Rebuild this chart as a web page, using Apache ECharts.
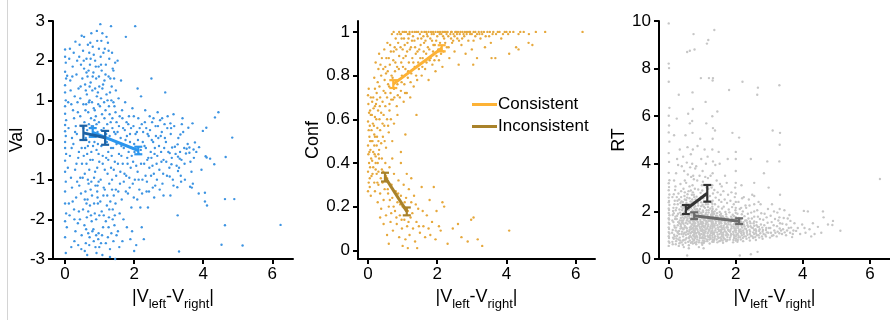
<!DOCTYPE html>
<html><head><meta charset="utf-8">
<script src="https://cdn.jsdelivr.net/npm/echarts@6/dist/echarts.min.js"></script>
<style>html,body{margin:0;padding:0;background:#fff}#c{width:890px;height:320px}</style>
</head><body><div id="c"></div>
<script>
// ---------- DATA ----------
const xTicks=[0,2,4,6];
const confTicks=[0,0.2,0.4,0.6,0.8,1];
const xName='{a||V}{s|left}{a|-V}{s|right}{a||}';

// Panel 1: Val vs |Vleft-Vright|
const valPts=[[0,2.28],[0,2.1],[0.02,1.95],[0,1.72],[0.03,1.55],[0,1.38],[0,1.2],[0.02,1.0],[0,0.85],[0,0.66],[0.03,0.5],[0,0.38],[0,0.22],[0.02,0.1],[0,-0.05],[0,-0.2],[0.03,-0.35],[0,-0.52],[0,-0.8],[0.02,-1.05],[0,-1.3],[0,-1.6],[0.03,-1.85],[0,-2.05],[0,-2.45],[0.02,-2.85],
[0.12,2.05],[0.15,1.5],[0.18,0.9],[0.1,0.3],[0.14,-0.4],[0.2,-1.2],[0.13,-1.9],[0.18,-2.7],[0.22,1.85],[0.25,2.2],[0.28,1.1],[0.3,2.48],[0.26,0.55],[0.24,-0.1],[0.29,-0.75],[0.22,-1.55],[0.3,-2.3],[0.27,-2.55],[0.33,1.65],[0.36,0.95],[0.34,0.15],[0.38,-0.45],[0.35,-1.05],[0.4,-1.8],[0.37,-2.1],[0.42,2.4],[0.45,1.35],[0.44,0.6],[0.48,-0.2],[0.46,-1.35],[0.43,-2.0],[0.48,-2.4],[0.41,2.1],[0.46,1.9],[0.39,1.3],[0.47,0.35],[0.49,-0.6],[0.44,-0.95],[0.38,-2.65],[0.32,-1.45],[0.17,-0.95],[0.2,0.05],[0.16,1.25],[0.23,0.75],[0.11,-1.6],[0.27,-2.0],[0.35,2.0],[0.48,2.63],[0.4,-0.3],[0.31,0.35],
[0.52,2.25],[0.55,1.8],[0.58,1.4],[0.53,0.9],[0.56,0.45],[0.6,0.05],[0.54,-0.4],[0.57,-0.85],[0.59,-1.3],[0.52,-1.75],[0.56,-2.15],[0.6,-2.6],[0.62,2.05],[0.65,1.6],[0.63,1.15],[0.67,0.7],[0.64,0.25],[0.66,-0.15],[0.62,-0.6],[0.68,-1.1],[0.65,-1.5],[0.63,-1.95],[0.67,-2.35],[0.64,-2.9],[0.7,2.2],[0.72,1.9],[0.74,1.45],[0.71,1.0],[0.75,0.55],[0.73,0.1],[0.76,-0.3],[0.7,-0.75],[0.74,-1.25],[0.72,-1.65],[0.77,-2.05],[0.71,-2.45],[0.76,2.69],[0.8,2.35],[0.82,1.7],[0.79,1.25],[0.83,0.8],[0.81,0.35],[0.85,-0.05],[0.8,-0.5],[0.84,-0.95],[0.78,-1.4],[0.86,-1.85],[0.82,-2.25],[0.88,-2.7],[0.87,2.0],[0.9,1.55],[0.92,1.1],[0.89,0.6],[0.94,0.2],[0.91,-0.25],[0.93,-0.7],[0.88,-1.15],[0.95,-1.6],[0.9,-2.0],[0.96,-2.5],[0.92,2.75],[0.98,2.3],[0.97,1.85],[0.99,1.35],[0.96,0.9],[0.98,0.45],[0.95,-0.1],[0.99,-0.55],[0.97,-1.05],[0.94,-1.45],[0.99,-1.9],[0.97,-2.35],[0.55,2.6],[0.61,0.9],[0.69,0.4],[0.58,-0.2],[0.66,-1.0],[0.75,-1.9],[0.83,-2.55],[0.87,1.3],[0.6,1.25],[0.78,0.95],[0.7,-0.05],[0.85,0.5],[0.62,-1.6],[0.93,-1.3],[0.73,2.45],[0.57,-2.8],[0.91,-2.85],[0.68,1.75],
[1.02,2.92],[1.05,2.5],[1.08,2.69],[1.03,2.1],[1.06,1.75],[1.1,1.4],[1.04,1.05],[1.07,0.65],[1.12,0.3],[1.05,-0.15],[1.09,-0.6],[1.03,-1.0],[1.11,-1.4],[1.06,-1.8],[1.1,-2.2],[1.04,-2.6],[1.08,-2.9],[1.15,2.3],[1.18,1.9],[1.14,1.5],[1.2,1.15],[1.17,0.75],[1.22,0.4],[1.16,0.0],[1.19,-0.45],[1.23,-0.85],[1.15,-1.25],[1.21,-1.65],[1.18,-2.05],[1.24,-2.45],[1.24,2.45],[1.28,2.05],[1.26,1.6],[1.3,1.2],[1.27,0.85],[1.32,0.45],[1.29,0.1],[1.25,-0.3],[1.33,-0.7],[1.28,-1.1],[1.31,-1.55],[1.27,-1.95],[1.34,-2.35],[1.3,-2.75],[1.33,2.87],[1.36,2.2],[1.38,1.8],[1.35,1.35],[1.4,0.95],[1.37,0.55],[1.42,0.2],[1.39,-0.2],[1.44,-0.55],[1.36,-1.0],[1.41,-1.4],[1.38,-1.75],[1.43,-2.15],[1.4,-2.55],[1.45,1.95],[1.47,1.25],[1.46,0.7],[1.49,-0.1],[1.48,-0.9],[1.46,-1.6],[1.49,-2.4],[1.45,-3.0],[1.13,0.95],[1.21,-0.05],[1.35,-0.4],[1.26,-2.2],[1.12,-1.2],[1.42,1.55],
[1.52,2.0],[1.55,1.05],[1.58,0.6],[1.52,0.2],[1.56,-0.35],[1.6,-0.8],[1.54,-1.3],[1.58,-1.85],[1.53,-2.3],[1.57,-2.7],[1.62,1.5],[1.65,0.75],[1.68,0.3],[1.63,-0.15],[1.67,-0.6],[1.7,-1.05],[1.64,-1.5],[1.69,-2.0],[1.66,-2.55],[1.76,2.6],[1.74,0.95],[1.78,0.45],[1.75,0.0],[1.8,-0.45],[1.77,-0.9],[1.82,-1.35],[1.79,-2.2],[1.85,0.6],[1.88,0.15],[1.84,-0.3],[1.9,-0.7],[1.87,-1.2],[1.92,-1.7],[1.89,-2.5],[2.03,2.87],[1.95,0.8],[1.98,0.35],[2.0,-0.1],[1.97,-0.55],[2.02,-1.0],[1.99,-1.45],[2.0,-2.8],[2.1,1.3],[2.12,0.55],[2.08,0.2],[2.14,-0.35],[2.1,-0.8],[2.15,-1.25],[2.2,1.1],[2.22,0.4],[2.25,-0.05],[2.2,-0.6],[2.24,-1.0],[2.18,-1.7],[2.22,-2.2],[2.28,-2.5],[2.06,-2.65],[1.94,-2.3],
[2.32,0.75],[2.35,0.3],[2.3,-0.15],[2.38,-0.5],[2.33,-0.9],[2.36,-1.3],[2.45,0.6],[2.42,0.1],[2.48,-0.3],[2.44,-0.7],[2.5,1.55],[2.52,0.45],[2.55,-0.05],[2.5,-0.45],[2.57,-0.85],[2.54,-1.2],[2.62,0.35],[2.6,-0.2],[2.65,-0.6],[2.68,0.7],[2.7,0.05],[2.66,-1.0],[2.75,0.5],[2.78,-0.3],[2.73,-0.75],[2.8,0.2],[2.85,-0.5],[2.82,-1.1],[2.9,1.2],[2.88,0.4],[2.92,-0.05],[2.95,-0.9],[2.97,0.6],[2.58,-1.45],[2.4,-1.7],[2.85,-1.4],
[3.14,0.65],[3.4,0.55],[4.44,0.7],[4.34,0.57],[3.05,0.42],[3.38,0.4],[3.69,0.42],[4.09,0.31],[3.99,0.23],[3.57,0.31],[3.07,0.3],[3.34,0.14],[4.84,0.06],[3.76,-0.06],[3.26,-0.11],[3.1,-0.19],[3.18,-0.17],[3.45,-0.2],[3.52,-0.22],[3.6,-0.19],[3.72,-0.24],[3.88,-0.18],[3.03,-0.33],[3.5,-0.34],[3.6,-0.32],[4.07,-0.41],[4.1,-0.44],[4.2,-0.47],[4.65,-0.43],[3.27,-0.42],[3.32,-0.47],[3.37,-0.5],[3.73,-0.45],[3.08,-0.61],[4.32,-0.61],[3.3,-0.7],[3.27,-0.78],[3.66,-0.8],[3.03,-0.92],[3.35,-0.9],[3.47,-1.0],[3.7,-1.1],[3.62,-1.18],[3.67,-1.2],[3.14,-1.15],[3.25,-1.19],[3.05,-1.4],[3.87,-1.35],[4.05,-1.33],[4.63,-1.49],[4.9,-1.49],[4.05,-1.55],[4.11,-1.65],[3.26,-1.9],[4.63,-2.15],[6.24,-2.14],[4.53,-2.64],[5.14,-2.66],[3.3,-2.81]];
const valPtsB=[[0.06,1.62],[0.08,-0.7],[0.09,0.95],[0.05,-2.2],[0.14,2.3],[0.19,-0.2],[0.21,1.6],[0.26,-1.75],[0.29,0.2],[0.33,-0.6],[0.37,0.7],[0.41,-1.15],[0.44,1.05],[0.47,-2.75],[0.5,1.55],[0.51,-0.95],[0.53,0.3],[0.54,2.0],[0.57,-1.5],[0.59,0.75],[0.61,-2.25],[0.62,1.7],[0.64,-0.35],[0.66,2.4],[0.67,-1.8],[0.69,0.95],[0.7,-2.65],[0.71,1.35],[0.73,-0.5],[0.74,2.05],[0.76,-1.05],[0.77,0.35],[0.79,-2.3],[0.8,1.6],[0.81,-0.15],[0.83,2.15],[0.84,-1.6],[0.86,0.75],[0.87,-0.8],[0.89,1.85],[0.9,-2.4],[0.91,0.4],[0.93,2.5],[0.94,-1.15],[0.95,1.2],[0.97,-0.35],[0.98,1.6],[0.99,-2.7],[1.01,0.85],[1.02,-1.55],[1.04,1.9],[1.05,0.25],[1.07,-2.4],[1.08,1.3],[1.09,-0.4],[1.11,2.2],[1.12,-1.9],[1.14,0.55],[1.15,-0.75],[1.17,1.65],[1.18,-2.6],[1.19,0.15],[1.2,2.6],[1.22,-1.4],[1.23,1.0],[1.25,-0.5],[1.26,2.25],[1.28,-1.75],[1.29,0.65],[1.3,-2.95],[1.31,1.55],[1.33,-0.2],[1.34,1.0],[1.36,-1.25],[1.37,0.3],[1.38,-2.0],[1.4,1.75],[1.41,-0.75],[1.43,0.85],[1.44,-1.9],[1.46,0.15],[1.47,-1.25],[1.49,0.45],
[1.53,-0.6],[1.56,0.35],[1.59,-1.1],[1.61,0.05],[1.63,-0.4],[1.66,0.55],[1.7,-0.2],[1.72,-0.85],[1.73,0.25],[1.76,-1.3],[1.79,0.1],[1.81,-0.6],[1.83,0.4],[1.86,-0.95],[1.88,-0.05],[1.91,0.3],[1.93,-0.4],[1.96,-1.1],[1.99,0.6],[2.01,-0.3],[2.04,0.15],[2.06,-0.65],[2.09,-1.5],[2.11,0.0],[2.13,-1.0],[2.16,0.3],[2.19,-0.25],[2.23,-1.35],[2.26,0.2],[2.29,-0.6],[2.31,0.45],[2.34,-0.2],[2.37,-1.05],[2.39,0.15],[2.41,-0.45],[2.43,-1.3],[2.46,0.25],[2.49,-0.9],[2.51,0.0],[2.53,-0.65],[2.56,0.55],[2.59,-0.35],[2.61,-1.15],[2.63,0.1],[2.67,-0.4],[2.69,0.35],[2.72,-0.15],[2.74,-1.25],[2.77,0.1],[2.79,-0.55],[2.81,0.55],[2.84,-0.85],[2.87,-0.2],[2.89,0.05],[2.93,-0.55],[2.96,0.3],[2.99,-0.3],[3.02,-0.7],[3.06,0.15],[3.09,-0.45],[3.12,-1.0],[3.16,0.35],[3.2,-0.35],[3.23,-0.65],[3.28,0.05],[3.33,-0.3],[3.36,-1.05],[3.42,0.2],[3.46,-0.6],[3.55,-0.1],[3.63,-0.55],[3.8,-0.3],[3.95,-0.75]];

// Panel 2: Conf
const confPts=[[0,0.27],[0.02,0.31],[0,0.36],[0.03,0.4],[0.01,0.44],[0,0.48],[0.04,0.52],[0.02,0.55],[0,0.59],[0.03,0.63],[0.01,0.67],[0,0.71],[0.02,0.74],[0.05,0.29],[0.06,0.38],[0.07,0.46],[0.05,0.57],[0.08,0.62],[0.06,0.5],[0.09,0.42],[0.1,0.34],
[0.12,0.41],[0.15,0.45],[0.13,0.5],[0.18,0.53],[0.14,0.58],[0.2,0.61],[0.16,0.65],[0.22,0.43],[0.25,0.48],[0.2,0.52],[0.27,0.56],[0.24,0.6],[0.29,0.64],[0.32,0.46],[0.3,0.5],[0.35,0.55],[0.33,0.6],[0.38,0.63],[0.4,0.42],[0.43,0.52],[0.47,0.57],[0.45,0.62],[0.52,0.47],[0.55,0.6],[0.6,0.54],[0.62,0.64],[0.7,0.5],[0.75,0.58],[0.85,0.62],[0.95,0.45],[1.08,0.53],[0.18,0.48],[0.28,0.4],[0.1,0.55],[0.11,0.62],[0.23,0.67],[0.38,0.49],[0.5,0.66],[0.3,0.44],[0.19,0.44],[1.4,0.62],
[0.15,0.7],[0.2,0.74],[0.18,0.79],[0.25,0.72],[0.28,0.77],[0.3,0.83],[0.22,0.86],[0.35,0.7],[0.33,0.75],[0.38,0.8],[0.4,0.88],[0.42,0.68],[0.45,0.73],[0.48,0.78],[0.5,0.84],[0.47,0.92],[0.55,0.7],[0.58,0.76],[0.52,0.81],[0.6,0.88],[0.56,0.95],[0.62,0.67],[0.65,0.72],[0.68,0.8],[0.63,0.85],[0.66,0.91],[0.69,0.99],
[0.72,0.69],[0.75,0.74],[0.78,0.82],[0.73,0.87],[0.77,0.93],[0.8,0.97],[0.74,1.0],[0.83,0.66],[0.86,0.71],[0.88,0.78],[0.84,0.84],[0.9,0.89],[0.87,0.95],[0.93,0.99],[0.95,0.73],[0.98,0.8],[0.96,0.86],[1.0,0.92],[0.97,0.97],[1.03,0.68],[1.05,0.76],[1.08,0.83],[1.02,0.88],[1.06,0.94],[1.1,1.0],[1.12,0.72],[1.15,0.79],[1.18,0.86],[1.13,0.91],[1.17,0.97],[1.2,0.99],[1.22,0.7],[1.25,0.81],[1.28,0.88],[1.24,0.93],[1.3,0.98],[1.32,0.75],[1.35,0.84],[1.38,0.9],[1.34,0.96],[1.4,1.0],
[1.42,0.78],[1.45,0.86],[1.48,0.92],[1.44,0.97],[1.5,0.99],[1.55,0.8],[1.58,0.88],[1.52,0.94],[1.6,0.98],[1.63,1.0],[1.65,0.83],[1.68,0.9],[1.62,0.95],[1.7,0.99],[1.75,0.78],[1.78,0.87],[1.73,0.93],[1.8,0.97],[1.82,1.0],[1.86,0.85],[1.88,0.91],[1.85,0.96],[1.9,0.99],[1.95,0.82],[1.98,0.89],[1.93,0.94],[2.0,0.98],[2.02,1.0],[2.05,0.87],[2.08,0.95],[2.12,0.99],[2.15,0.84],[2.18,0.91],[2.2,0.97],
[2.25,1.0],[2.28,0.93],[2.32,0.98],[2.35,0.88],[2.4,1.0],[2.43,0.95],[2.47,0.99],[2.5,0.91],[2.55,1.0],[2.58,0.97],[2.62,0.85],[2.65,0.99],[2.7,0.94],[2.73,1.0],[2.78,0.98],[2.82,0.9],[2.86,1.0],[2.9,0.96],[2.95,0.99],[3.0,0.92],[3.05,1.0],[3.1,0.98],[3.15,0.88],[3.2,1.0],[3.25,0.97],[3.3,0.99],[3.38,0.93],[3.45,1.0],[3.5,0.98],[3.55,0.95],[3.62,1.0],[3.7,0.99],[3.68,0.88],[3.8,1.0],[3.85,0.97],[3.95,1.0],[4.05,0.99],[4.08,0.9],[4.2,1.0],[4.35,0.99],[4.5,1.0],[4.28,0.93],[4.75,0.94],[4.65,0.99],[4.85,1.0],[5.12,1.0],[6.2,1.0],[2.3,1.0],[2.6,1.0],[2.95,1.0],[3.35,1.0],[3.75,1.0],[4.0,1.0],[2.2,1.0],[2.5,0.98],[2.85,0.99],[3.15,0.99],[3.4,0.98],[2.15,1.0],[1.95,1.0],[1.75,1.0],[1.55,1.0],[1.35,1.0],[1.2,1.0],[1.0,1.0],[0.9,1.0],[0.85,0.99],[2.4,0.97],[2.72,0.97],[3.05,0.96],[3.57,0.88],[3.04,0.85],[4.35,0.92],[4.64,0.95],
[0.05,0.33],[0.08,0.25],[0.15,0.38],[0.18,0.31],[0.2,0.27],[0.22,0.4],[0.25,0.35],[0.28,0.22],[0.3,0.3],[0.32,0.42],[0.35,0.26],[0.38,0.19],[0.4,0.37],[0.42,0.31],[0.45,0.23],[0.48,0.28],[0.5,0.4],[0.52,0.16],[0.55,0.33],[0.58,0.26],[0.6,0.2],[0.62,0.38],[0.65,0.13],[0.68,0.3],[0.7,0.24],[0.72,0.09],[0.75,0.35],[0.78,0.18],[0.8,0.27],[0.83,0.12],[0.85,0.22],[0.88,0.32],[0.9,0.06],[0.92,0.16],[0.95,0.25],[0.98,0.1],[1.0,0.2],[1.03,0.3],[1.05,0.14],[1.08,0.05],[1.1,0.24],[1.13,0.11],[1.15,0.18],[1.18,0.28],[1.2,0.07],[1.23,0.15],[1.25,0.22],[1.3,0.1],[1.33,0.25],[1.36,0.04],[1.4,0.13],[1.42,0.01],[1.45,0.19],[1.5,0.08],[1.55,0.29],[1.6,0.11],[1.65,0.06],[1.7,0.16],[1.78,0.23],[1.8,0.07],[1.85,0.13],[1.9,0.29],[1.95,0.05],[2.05,0.11],[2.1,0.09],[2.15,0.22],[2.2,0.2],[2.3,0.03],[2.45,0.1],[2.6,0.12],[2.7,0.06],[2.88,0.04],[3.05,0.15],[2.98,0.14],[3.17,0.05],[3.3,0.02],[4.08,0.09],[0.6,0.03],[1.12,0.35],[0.95,0.4],[0.7,0.42],[0.3,0.36],[1.25,0.33],[0.45,0.12],[0.55,0.07],[0.35,0.15],[1.0,0.02],[1.15,0.01]];
const confPtsB=[[0.32,0.9],[0.36,0.85],[0.44,0.83],[0.5,0.72],[0.53,0.88],[0.57,0.82],[0.61,0.75],[0.64,0.94],[0.67,0.69],[0.71,0.79],[0.74,0.91],[0.76,0.7],[0.79,0.86],[0.82,0.92],[0.85,0.76],[0.89,0.83],[0.92,0.7],[0.94,0.93],[0.97,0.77],[1.01,0.84],[1.04,0.97],[1.07,0.72],[1.09,0.89],[1.14,0.95],[1.16,0.82],[1.21,0.92],[1.23,0.77],[1.27,0.96],[1.31,0.86],[1.36,0.93],[1.39,0.8],[1.43,0.91],[1.47,0.83],[1.51,0.88],[1.54,0.97],[1.57,0.84],[1.61,0.91],[1.66,0.96],[1.69,0.86],[1.72,0.98],[1.77,0.92],[1.81,0.88],[1.84,0.99],[1.89,0.94],[1.92,0.87],[1.97,0.96],[2.03,0.92],[2.07,0.99],[2.11,0.9],[2.17,0.98],[2.23,0.95],[2.27,0.99],[2.33,0.93],[2.38,0.99],[2.42,1.0],[2.46,0.96],[2.52,1.0],[2.57,0.99],[2.63,0.96],[2.67,1.0],[2.76,0.99],[2.8,1.0],[2.92,1.0],[3.0,0.99],[3.1,1.0],[3.22,0.99],[3.28,1.0],[3.52,1.0],[3.6,0.99],[3.9,0.99],[4.1,1.0],[4.4,1.0],[1.05,1.0],[1.28,1.0],[1.45,1.0],[1.68,1.0],[1.88,1.0],[2.08,1.0],[0.95,0.99],[1.15,0.99],[0.2,0.66],[0.26,0.69],[0.12,0.68],[0.08,0.7],[0.17,0.57],[0.26,0.52],[0.34,0.66],[0.42,0.58],[0.48,0.5],[0.58,0.57],[0.66,0.6],[0.06,0.64],[0.04,0.45],[0.09,0.5],[0.13,0.35],[0.22,0.37],[0.27,0.31],[0.37,0.33],[0.44,0.36],[0.52,0.34],[0.57,0.28],[0.63,0.23],[0.67,0.17],[0.74,0.2],[0.82,0.15],[0.87,0.26],[0.93,0.21],[0.97,0.14],[1.06,0.22],[1.17,0.13],[1.28,0.17],[1.38,0.21],[1.47,0.11],[1.58,0.18],[1.75,0.1],[1.98,0.18]];

// Panel 3: RT
const rtPts=[[0,0.55],[0.02,0.68],[0,0.74],[0.01,0.88],[0,0.96],[0.02,1.07],[0,1.13],[0.01,1.26],[0,1.33],[0.02,1.47],[0,1.52],[0.01,1.66],[0,1.71],[0.02,1.84],[0,1.93],[0.01,2.06],[0,2.12],[0.02,2.27],[0,2.38],[0.01,2.44],[0,2.58],[0.02,2.71],[0,2.89],[0.01,3.02],[0,3.18],[0.02,3.31],[0,3.62],[0.01,4.08],[0,4.45],[0.02,4.93],[0,5.32],[0.01,5.61],[0,6.02],[0.02,6.35],[0,7.45],[0.01,8.02],[0,8.21],[0,9.9],
[0.12,0.62],[0.15,0.85],[0.1,1.1],[0.18,1.32],[0.14,1.55],[0.2,1.78],[0.13,2.02],[0.17,2.3],[0.11,2.6],[0.19,2.9],[0.16,3.3],[0.22,0.75],[0.25,0.98],[0.21,1.2],[0.27,1.42],[0.24,1.68],[0.28,1.9],[0.23,2.15],[0.26,2.45],[0.29,2.75],[0.22,3.6],[0.25,4.2],[0.3,0.55],[0.33,0.9],[0.31,1.05],[0.35,1.28],[0.32,1.5],[0.36,1.72],[0.34,1.95],[0.38,2.2],[0.31,2.5],[0.37,2.85],[0.35,3.15],[0.39,3.9],[0.33,4.6],[0.3,6.9],[0.38,0.7],[0.4,1.15],[0.36,1.38],[0.39,1.62],[0.4,2.05],[0.37,2.6],[0.28,3.95],[0.2,3.05],[0.15,2.72],[0.27,1.1],[0.18,0.95],[0.12,1.85],[0.24,5.9],[0.16,5.2],
[0.42,0.6],[0.45,0.8],[0.43,0.95],[0.47,1.1],[0.44,1.25],[0.48,1.4],[0.41,1.55],[0.46,1.7],[0.43,1.85],[0.49,2.0],[0.45,2.2],[0.42,2.4],[0.47,2.65],[0.44,2.95],[0.48,3.3],[0.46,3.7],[0.43,4.3],[0.5,0.68],[0.53,0.88],[0.51,1.02],[0.55,1.18],[0.52,1.33],[0.56,1.48],[0.54,1.62],[0.58,1.8],[0.51,1.95],[0.57,2.12],[0.53,2.35],[0.55,2.58],[0.59,2.85],[0.52,3.2],[0.57,3.55],[0.54,4.05],[0.56,4.7],[0.58,6.1],[0.55,8.7],[0.6,0.58],[0.63,0.78],[0.61,0.92],[0.65,1.08],[0.62,1.22],[0.66,1.37],[0.64,1.52],[0.68,1.66],[0.61,1.82],[0.67,1.98],[0.63,2.18],[0.65,2.42],[0.69,2.7],[0.62,3.05],[0.67,3.45],[0.64,3.85],[0.66,4.4],[0.63,5.7],[0.7,0.72],[0.72,0.65],[0.71,0.85],[0.73,1.0],[0.7,1.15],[0.72,1.3],[0.71,1.45],[0.73,1.6],[0.7,1.75],[0.72,1.9],[0.71,2.05],[0.73,2.25],[0.7,2.5],[0.72,2.8],[0.71,3.1],[0.73,3.5],[0.7,4.0],[0.72,4.6],[0.71,5.3],[0.7,5.8],[0.72,6.3],[0.71,7.0],[0.76,0.8],[0.78,0.95],[0.75,1.12],[0.79,1.27],[0.77,1.42],[0.76,1.58],[0.78,1.72],[0.75,1.88],[0.79,2.08],[0.77,2.32],[0.76,2.6],[0.78,2.95],[0.75,3.35],[0.79,3.8],[0.77,8.8],[0.74,9.45],[0.63,8.75],[0.5,5.2],[0.45,0.5],[0.6,0.45],[0.55,0.15],[0.48,2.8],[0.66,2.88],[0.58,1.05],[0.69,1.28],[0.44,1.48],[0.53,1.75],[0.64,0.98],
[0.82,0.62],[0.85,0.82],[0.83,0.98],[0.87,1.13],[0.84,1.28],[0.88,1.43],[0.86,1.58],[0.81,1.73],[0.89,1.9],[0.84,2.1],[0.87,2.35],[0.83,2.62],[0.88,2.92],[0.85,3.3],[0.82,3.9],[0.86,4.75],[0.9,0.7],[0.93,0.88],[0.91,1.05],[0.95,1.2],[0.92,1.35],[0.96,1.5],[0.94,1.65],[0.98,1.82],[0.91,2.0],[0.97,2.22],[0.93,2.48],[0.95,2.78],[0.99,3.1],[0.92,3.5],[0.97,4.2],[0.94,5.05],[0.96,7.6],[1.0,0.6],[1.02,0.78],[1.01,0.94],[1.03,1.1],[1.0,1.25],[1.02,1.4],[1.01,1.56],[1.03,1.7],[1.0,1.86],[1.02,2.04],[1.01,2.28],[1.03,2.55],[1.0,2.88],[1.02,3.25],[1.01,3.7],[1.05,0.68],[1.08,0.86],[1.06,1.02],[1.1,1.16],[1.07,1.32],[1.11,1.47],[1.09,1.62],[1.05,1.78],[1.12,1.95],[1.08,2.15],[1.1,2.4],[1.06,2.7],[1.13,3.0],[1.09,3.45],[1.11,4.0],[1.07,4.6],[1.12,5.7],[1.1,6.6],[1.15,0.75],[1.18,0.92],[1.16,1.08],[1.19,1.23],[1.17,1.38],[1.15,1.53],[1.18,1.68],[1.16,1.85],[1.19,2.05],[1.17,2.3],[1.15,2.6],[1.18,2.95],[1.17,3.4],[1.16,4.3],[1.14,9.05],[1.18,9.2],[1.2,7.6],[0.9,0.5],[1.04,0.45],[0.86,2.05],[0.99,1.45],[1.13,1.6],
[1.22,0.65],[1.25,0.85],[1.23,1.0],[1.27,1.15],[1.24,1.3],[1.28,1.45],[1.26,1.6],[1.21,1.76],[1.29,1.92],[1.24,2.12],[1.27,2.38],[1.23,2.65],[1.28,3.0],[1.25,3.5],[1.3,0.72],[1.31,0.9],[1.32,1.05],[1.3,1.2],[1.31,1.35],[1.32,1.5],[1.3,1.65],[1.31,1.8],[1.32,1.98],[1.3,2.2],[1.31,2.45],[1.32,2.75],[1.3,3.1],[1.31,3.6],[1.32,4.1],[1.3,4.6],[1.31,5.05],[1.32,5.5],[1.3,6.0],[1.31,7.5],[1.32,7.6],[1.36,9.62],[1.35,0.8],[1.38,0.96],[1.36,1.12],[1.4,1.27],[1.37,1.42],[1.41,1.58],[1.39,1.74],[1.35,1.9],[1.42,2.08],[1.38,2.3],[1.4,2.58],[1.36,2.9],[1.43,3.3],[1.39,3.95],[1.45,0.7],[1.48,0.88],[1.46,1.03],[1.5,1.18],[1.47,1.33],[1.51,1.48],[1.49,1.64],[1.45,1.8],[1.52,1.98],[1.48,2.2],[1.5,2.48],[1.46,2.8],[1.53,3.15],[1.49,4.5],[1.55,0.78],[1.58,0.95],[1.56,1.1],[1.59,1.25],[1.57,1.4],[1.55,1.56],[1.58,1.72],[1.56,1.9],[1.59,2.12],[1.57,2.4],[1.55,2.7],[1.58,3.05],[1.45,6.2],[1.38,5.4],[1.52,4.0],
[1.62,0.68],[1.65,0.86],[1.63,1.02],[1.67,1.17],[1.64,1.32],[1.68,1.48],[1.66,1.63],[1.61,1.8],[1.69,1.98],[1.64,2.2],[1.67,2.5],[1.63,2.85],[1.68,3.5],[1.72,0.75],[1.75,0.92],[1.73,1.08],[1.77,1.23],[1.74,1.38],[1.78,1.54],[1.76,1.7],[1.71,1.88],[1.79,2.08],[1.74,2.35],[1.77,2.7],[1.73,3.2],[1.76,4.2],[1.8,7.1],[1.82,0.82],[1.85,0.98],[1.83,1.14],[1.87,1.29],[1.84,1.45],[1.88,1.6],[1.86,1.78],[1.81,1.96],[1.89,2.18],[1.84,2.45],[1.87,2.8],[1.9,5.3],[1.92,0.7],[1.95,0.88],[1.93,1.04],[1.97,1.2],[1.94,1.35],[1.98,1.5],[1.96,1.68],[1.91,1.86],[1.99,2.05],[1.94,2.3],[1.97,2.6],[1.98,3.0],[2.0,0.78],[2.0,0.95],[2.0,1.12],[2.0,1.28],[2.0,1.44],[2.0,1.6],[2.0,1.76],[2.0,1.94],[2.0,2.15],[2.0,2.4],[2.0,2.75],[2.0,3.2],[2.0,3.7],[2.0,4.2],[2.0,4.5],[2.05,0.72],[2.08,0.9],[2.06,1.06],[2.1,1.22],[2.07,1.38],[2.11,1.55],[2.09,1.72],[2.05,1.9],[2.12,2.1],[2.08,2.4],[2.15,0.82],[2.18,1.0],[2.16,1.16],[2.19,1.32],[2.17,1.5],[2.15,1.68],[2.18,1.88],[2.16,2.15],[2.19,2.55],[2.17,3.1],[2.12,0.15],[2.2,7.45],[2.1,5.1],
[2.22,0.75],[2.25,0.95],[2.23,1.12],[2.27,1.28],[2.24,1.45],[2.28,1.62],[2.26,1.8],[2.21,2.0],[2.29,2.25],[2.24,2.6],[2.32,0.85],[2.35,1.02],[2.33,1.18],[2.37,1.35],[2.34,1.52],[2.38,1.7],[2.36,1.9],[2.31,2.15],[2.39,2.5],[2.42,0.78],[2.45,0.98],[2.43,1.15],[2.47,1.32],[2.44,1.5],[2.48,1.7],[2.46,1.95],[2.41,2.25],[2.49,2.7],[2.45,4.2],[2.52,0.88],[2.55,1.05],[2.55,1.22],[2.55,1.4],[2.55,1.58],[2.55,1.78],[2.55,2.0],[2.55,2.3],[2.55,2.65],[2.55,3.2],[2.6,0.8],[2.63,1.0],[2.61,1.18],[2.65,1.35],[2.62,1.55],[2.66,1.78],[2.64,2.05],[2.68,2.4],[2.66,7.2],[2.64,6.9],[2.7,0.9],[2.73,1.08],[2.71,1.25],[2.75,1.45],[2.72,1.68],[2.76,1.92],[2.74,2.3],[2.8,0.85],[2.83,1.05],[2.81,1.22],[2.85,1.42],[2.82,1.65],[2.86,1.9],[2.84,3.6],[2.9,0.95],[2.93,1.12],[2.91,1.3],[2.95,1.52],[2.92,1.75],[2.96,2.1],[2.94,4.1],[2.98,3.0],[2.65,0.3],[2.45,0.2],
[3.02,0.9],[3.05,1.1],[3.03,1.3],[3.07,1.55],[3.04,1.82],[3.08,2.3],[3.12,1.0],[3.15,1.2],[3.13,1.42],[3.17,1.68],[3.14,2.0],[3.1,5.4],[3.22,0.95],[3.25,1.15],[3.23,1.38],[3.27,1.62],[3.24,1.95],[3.3,1.08],[3.31,1.28],[3.32,1.5],[3.3,1.75],[3.31,2.1],[3.32,2.7],[3.3,4.1],[3.31,4.8],[3.3,7.3],[3.32,5.3],[3.38,1.05],[3.41,1.25],[3.39,1.48],[3.43,1.72],[3.5,1.0],[3.53,1.2],[3.51,1.45],[3.55,1.7],[3.62,1.1],[3.65,1.32],[3.63,1.6],[3.68,0.92],[3.72,1.2],[3.75,1.5],[3.85,1.3],[3.92,1.05],[3.98,1.45],[3.45,2.05],[3.6,1.85],
[4.03,2.02],[4.05,1.3],[4.08,1.1],[4.15,2.0],[4.2,1.25],[4.3,1.5],[4.35,1.05],[4.45,1.35],[4.55,1.1],[4.6,2.0],[4.62,1.75],[4.75,1.45],[4.88,1.43],[5.12,1.19],[6.3,3.36],[4.9,1.6],[4.25,0.95]];
const rtPtsB=[[0.11,0.72],[0.13,0.9],[0.16,1.02],[0.12,1.22],[0.17,1.4],[0.11,1.62],[0.19,1.68],[0.15,1.92],[0.14,2.15],[0.18,2.45],[0.21,0.62],[0.23,0.86],[0.26,1.15],[0.22,1.32],[0.28,1.55],[0.25,1.82],[0.21,2.05],[0.27,2.3],[0.24,2.6],[0.29,0.82],[0.32,0.66],[0.34,0.78],[0.31,1.18],[0.36,1.45],[0.33,1.62],[0.37,1.85],[0.32,2.08],[0.35,2.35],[0.38,1.05],[0.39,1.3],[0.4,1.52],[0.41,1.75],[0.38,2.42],[0.42,0.78],[0.44,1.05],[0.47,1.32],[0.43,1.62],[0.49,1.78],[0.46,1.95],[0.42,2.12],[0.48,2.5],
[0.5,0.82],[0.52,1.12],[0.54,1.28],[0.51,1.52],[0.56,1.68],[0.53,1.88],[0.57,2.05],[0.59,2.28],[0.52,2.48],[0.56,2.72],[0.58,0.72],[0.6,0.88],[0.61,1.15],[0.63,1.32],[0.6,1.58],[0.62,1.72],[0.64,1.92],[0.61,2.08],[0.65,2.3],[0.62,2.55],[0.66,0.68],[0.67,0.92],[0.68,1.12],[0.66,1.25],[0.69,1.45],[0.65,1.62],[0.68,1.85],[0.67,2.15],[0.69,2.38],[0.74,0.78],[0.75,0.95],[0.76,1.05],[0.74,1.22],[0.75,1.38],[0.74,1.52],[0.76,1.68],[0.74,1.82],[0.75,1.98],[0.76,2.15],[0.74,2.4],[0.75,2.7],[0.78,0.68],[0.79,0.88],[0.8,1.08],[0.78,1.18],[0.8,1.35],[0.79,1.5],[0.8,1.65],[0.78,1.85],[0.8,2.0],[0.79,2.22],[0.8,2.5],[0.83,0.72],[0.85,0.92],[0.82,1.08],[0.86,1.22],[0.84,1.38],[0.88,1.52],[0.83,1.65],[0.87,1.8],[0.85,1.98],[0.88,2.25],[0.91,0.78],[0.93,0.98],[0.9,1.12],[0.94,1.28],[0.92,1.45],[0.95,1.58],[0.91,1.75],[0.96,1.92],[0.93,2.1],[0.97,2.38],[0.98,0.68],[0.99,0.88],[0.97,1.05],[0.99,1.18],[0.98,1.35],[0.97,1.55],[0.99,1.72],[0.98,1.95],[0.96,2.6],
[1.02,0.68],[1.04,0.88],[1.03,1.02],[1.05,1.2],[1.04,1.35],[1.03,1.5],[1.05,1.65],[1.04,1.82],[1.03,1.98],[1.05,2.2],[1.07,0.75],[1.09,0.95],[1.08,1.1],[1.11,1.25],[1.09,1.4],[1.12,1.55],[1.07,1.7],[1.1,1.88],[1.13,2.05],[1.11,2.3],[1.14,0.82],[1.16,0.98],[1.19,1.15],[1.15,1.3],[1.18,1.45],[1.2,1.6],[1.16,1.75],[1.19,1.95],[1.17,2.18],[1.21,0.82],[1.23,0.92],[1.26,1.08],[1.22,1.22],[1.25,1.38],[1.28,1.52],[1.23,1.68],[1.26,1.85],[1.29,2.02],[1.31,0.8],[1.3,0.98],[1.32,1.12],[1.3,1.28],[1.32,1.42],[1.31,1.58],[1.3,1.72],[1.32,1.88],[1.31,2.1],[1.3,2.32],[1.34,0.72],[1.37,0.88],[1.35,1.05],[1.39,1.2],[1.36,1.35],[1.4,1.5],[1.38,1.65],[1.41,1.82],[1.37,2.0],[1.43,0.82],[1.46,0.95],[1.44,1.12],[1.48,1.25],[1.45,1.42],[1.49,1.58],[1.47,1.72],[1.44,1.92],[1.51,0.75],[1.53,0.9],[1.52,1.05],[1.54,1.22],[1.53,1.36],[1.52,1.52],[1.54,1.68],[1.53,1.85],[1.57,0.85],[1.59,1.02],[1.56,1.18],[1.58,1.32],[1.57,1.5],[1.59,1.62],[1.56,1.8],
[1.61,0.78],[1.63,0.92],[1.62,1.1],[1.66,1.25],[1.64,1.4],[1.67,1.55],[1.65,1.72],[1.69,0.82],[1.71,1.0],[1.7,1.15],[1.72,1.32],[1.71,1.48],[1.7,1.62],[1.72,1.78],[1.75,0.8],[1.77,1.02],[1.79,1.18],[1.76,1.32],[1.78,1.46],[1.8,1.62],[1.83,0.9],[1.86,1.05],[1.84,1.22],[1.88,1.38],[1.85,1.55],[1.89,1.7],[1.93,0.8],[1.95,0.98],[1.92,1.14],[1.96,1.28],[1.94,1.45],[1.97,1.6],[1.95,1.8],[2.01,0.85],[2.02,1.02],[2.01,1.2],[2.02,1.36],[2.01,1.52],[2.02,1.68],[2.06,0.8],[2.08,0.98],[2.1,1.14],[2.07,1.3],[2.09,1.46],[2.13,0.92],[2.16,1.08],[2.14,1.24],[2.17,1.4],[2.15,1.58],[2.21,0.88],[2.24,1.05],[2.22,1.2],[2.26,1.38],[2.23,1.55],[2.3,0.95],[2.33,1.1],[2.31,1.26],[2.35,1.42],[2.32,1.62],[2.4,0.9],[2.42,1.05],[2.41,1.22],[2.44,1.38],[2.42,1.58],[2.5,0.95],[2.52,1.12],[2.51,1.3],[2.53,1.5],[2.58,0.92],[2.6,1.08],[2.59,1.25],[2.62,1.42],[2.68,1.0],[2.7,1.18],[2.69,1.35],[2.78,0.95],[2.8,1.15],[2.79,1.32],[2.88,1.02],[2.9,1.22],[2.97,1.1],[2.99,1.3],[3.08,0.98],[3.18,1.1],[3.35,1.2],[3.46,1.12],[3.58,1.3],[3.7,1.05],[3.8,1.18]];

// Means and error bars
const valLightX=[0.8,2.12], valLightY=[0.19,-0.265], valLightErr=[0.11,0.095];
const valDarkX=[0.53,1.16], valDarkY=[0.18,0.055], valDarkErr=[0.18,0.175];
const confConsX=[0.73,2.13], confConsY=[0.761,0.925], confConsErr=[0.018,0.014];
const confIncX=[0.49,1.12], confIncY=[0.335,0.178], confIncErr=[0.02,0.018];
const rtDarkX=[0.51,1.15], rtDarkY=[2.08,2.76], rtDarkErr=[0.19,0.35];
const rtGrayX=[0.76,2.1], rtGrayY=[1.82,1.59], rtGrayErr=[0.14,0.12];

// ---------- CHART ----------
const FONT='"Liberation Sans", Arial, Helvetica, sans-serif';
const chart=echarts.init(document.getElementById('c'),null,{renderer:'canvas'});

function zip(xs,ys){return xs.map((x,i)=>[x,ys[i]]);}
function zip3(xs,ys,es){return xs.map((x,i)=>[x,ys[i],es[i]]);}

function xAxisCfg(gi,min,max){
  return {gridIndex:gi,type:'value',min:min,max:max,
    axisLine:{onZero:false,lineStyle:{color:'#000',width:2}},
    axisTick:{customValues:xTicks,length:5,lineStyle:{color:'#000',width:2}},
    axisLabel:{customValues:xTicks,color:'#000',fontSize:17,fontFamily:FONT,margin:7},
    splitLine:{show:false},
    name:xName,nameLocation:'middle',nameGap:29,
    nameTextStyle:{color:'#000',fontFamily:FONT,rich:{
      a:{fontSize:18,fontFamily:FONT,color:'#000',lineHeight:22,verticalAlign:'top'},
      s:{fontSize:13,fontFamily:FONT,color:'#000',lineHeight:14,padding:[10,0,0,0],verticalAlign:'top'}
    }}
  };
}
function yAxisCfg(gi,min,max,extra,name,gap){
  return Object.assign({gridIndex:gi,type:'value',min:min,max:max,
    axisLine:{onZero:false,lineStyle:{color:'#000',width:2}},
    axisTick:{length:5,lineStyle:{color:'#000',width:2}},
    axisLabel:{color:'#000',fontSize:17,fontFamily:FONT,margin:8},
    splitLine:{show:false},
    name:name,nameLocation:'middle',nameGap:gap,
    nameTextStyle:{color:'#000',fontSize:18,fontFamily:FONT}
  },extra);
}

function scatter(gi,data,color){
  return {type:'scatter',xAxisIndex:gi,yAxisIndex:gi,data:data,symbolSize:2.4,
    itemStyle:{color:color,opacity:1},silent:true,z:1};
}
function meanLine(gi,name,xs,ys,color,z){
  return {type:'line',name:name,xAxisIndex:gi,yAxisIndex:gi,data:zip(xs,ys),
    symbol:'none',lineStyle:{color:color,width:3},itemStyle:{color:color},z:z,silent:true};
}
function errBars(gi,xs,ys,es,color,z){
  return {type:'custom',xAxisIndex:gi,yAxisIndex:gi,data:zip3(xs,ys,es),z:z,silent:true,
    renderItem:function(params,api){
      const x=api.value(0),y=api.value(1),e=api.value(2);
      const t=api.coord([x,y+e]), b=api.coord([x,y-e]);
      const w=4;
      const st={stroke:color,lineWidth:2.2,fill:null};
      return {type:'group',children:[
        {type:'line',shape:{x1:t[0],y1:t[1],x2:b[0],y2:b[1]},style:st},
        {type:'line',shape:{x1:t[0]-w,y1:t[1],x2:t[0]+w,y2:t[1]},style:st},
        {type:'line',shape:{x1:b[0]-w,y1:b[1],x2:b[0]+w,y2:b[1]},style:st}
      ]};
    }};
}

const cLight='#2b96ee', cDark='#1c62a5', cCons='#fdb235', cInc='#a9822a', cRtDark='#333333', cRtGray='#6a6a6a';

chart.setOption({
  animation:false,
  backgroundColor:'#ffffff',
  grid:[
    {left:53,top:21,width:240,height:238},
    {left:358,top:21,width:237,height:238},
    {left:659,top:21,width:241,height:238}
  ],
  xAxis:[xAxisCfg(0,-0.35,6.6),xAxisCfg(1,-0.29,6.56),xAxisCfg(2,-0.29,6.6)],
  yAxis:[
    yAxisCfg(0,-3,3,{interval:1},'Val',26),
    yAxisCfg(1,-0.04,1.05,{axisTick:{customValues:confTicks,length:5,lineStyle:{color:'#000',width:2}},
      axisLabel:{customValues:confTicks,color:'#000',fontSize:17,fontFamily:FONT,margin:8}},'Conf',35),
    yAxisCfg(2,0,10,{interval:2},'RT',27)
  ],
  legend:{data:['Consistent','Inconsistent'],orient:'vertical',left:467,top:91,
    icon:'rect',itemWidth:25,itemHeight:3,itemGap:5,
    textStyle:{color:'#000',fontSize:17,fontFamily:FONT,padding:[0,0,0,-4]},
    selectedMode:false},
  graphic:[{type:'rect',shape:{x:7,y:0,width:1,height:320},style:{fill:'#d4d4d4'},silent:true}],
  series:[
    scatter(0,valPts.concat(valPtsB),'#3d94e2'),
    scatter(1,confPts.concat(confPtsB),'#e6a83c'),
    scatter(2,rtPts.concat(rtPtsB),'#c6c6c6'),
    meanLine(0,'valLight',valLightX,valLightY,cLight,5),
    errBars(0,valLightX,valLightY,valLightErr,cLight,5),
    meanLine(0,'valDark',valDarkX,valDarkY,cDark,6),
    errBars(0,valDarkX,valDarkY,valDarkErr,cDark,6),
    meanLine(1,'Consistent',confConsX,confConsY,cCons,5),
    errBars(1,confConsX,confConsY,confConsErr,cCons,5),
    meanLine(1,'Inconsistent',confIncX,confIncY,cInc,5),
    errBars(1,confIncX,confIncY,confIncErr,cInc,5),
    meanLine(2,'rtGray',rtGrayX,rtGrayY,cRtGray,5),
    errBars(2,rtGrayX,rtGrayY,rtGrayErr,cRtGray,5),
    meanLine(2,'rtDark',rtDarkX,rtDarkY,cRtDark,6),
    errBars(2,rtDarkX,rtDarkY,rtDarkErr,cRtDark,6)
  ]
});
</script></body></html>
